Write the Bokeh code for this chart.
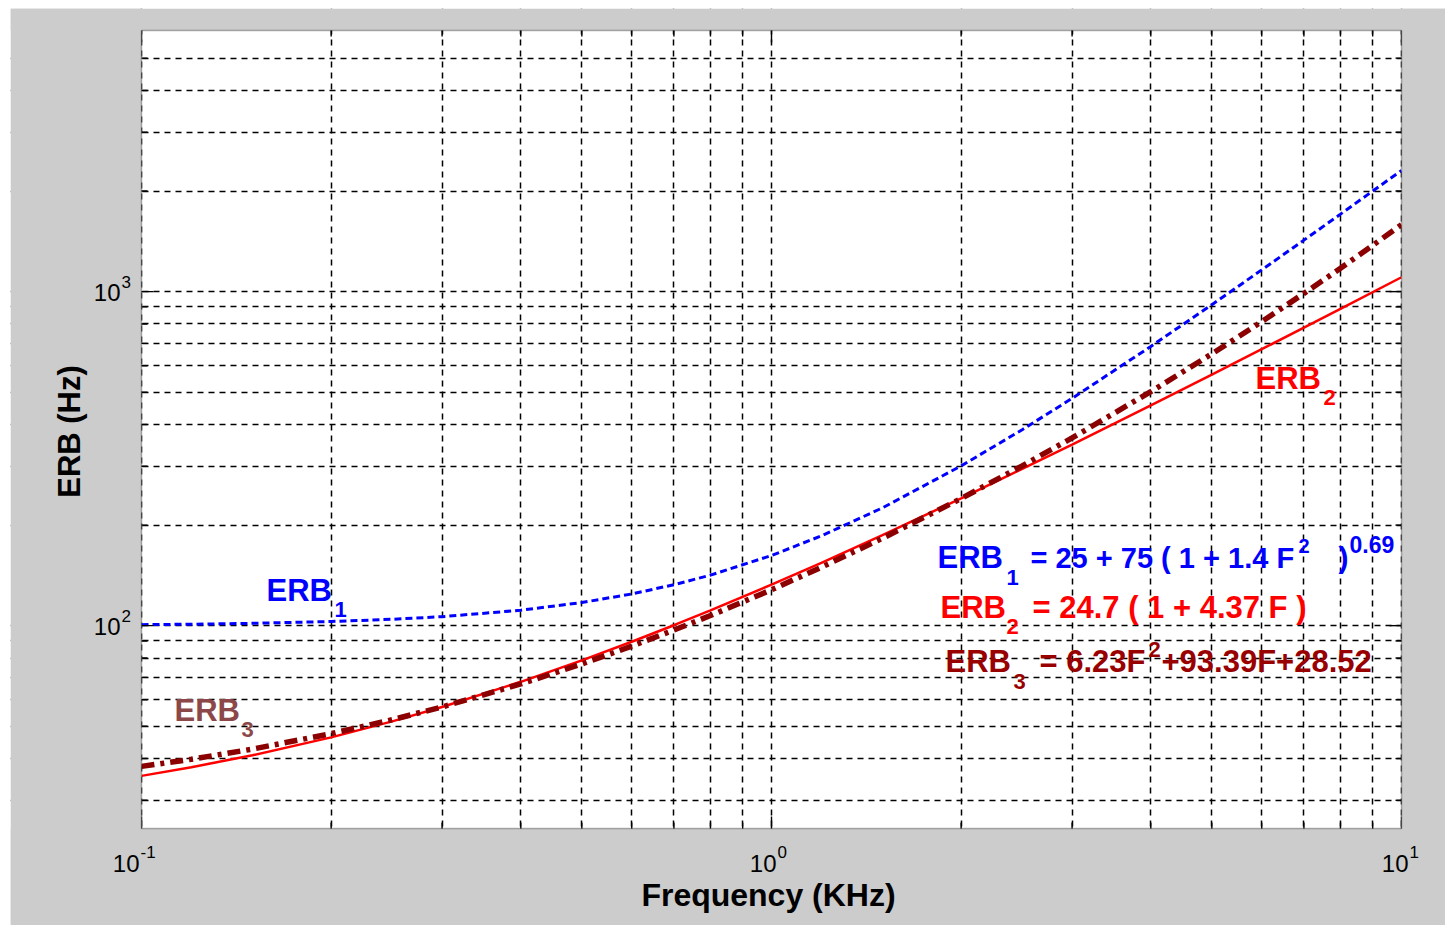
from math import pi, log10
from bokeh.plotting import figure
from bokeh.models import Range1d, FixedTicker, Label, BoxAnnotation
from bokeh.embed import file_html
from bokeh.resources import INLINE

# ---- data ----
freq_khz = [0.1, 0.12, 0.15, 0.2, 0.25, 0.3, 0.4, 0.5, 0.6, 0.7, 0.8, 1.0, 1.2,
            1.5, 2.0, 2.5, 3.0, 4.0, 5.0, 6.0, 7.0, 8.0, 10.0]
erb1 = [100.7, 101.0, 101.6, 102.9, 104.5, 106.4, 111.2, 117.3, 124.4, 132.6, 141.6,
        162.2, 185.7, 225.2, 300.8, 386.0, 479.1, 685.4, 914.0, 1161.6, 1426.0,
        1705.8, 2305.6]
erb2 = [35.5, 37.7, 40.9, 46.3, 51.7, 57.1, 67.9, 78.7, 89.5, 100.3, 111.1, 132.6,
        154.2, 186.6, 240.6, 294.6, 348.5, 456.5, 564.4, 672.3, 780.3, 888.2, 1104.1]
erb3 = [37.9, 39.8, 42.7, 47.5, 52.3, 57.1, 66.9, 76.8, 86.8, 97.0, 107.2, 128.1,
        149.6, 182.6, 240.2, 300.9, 364.8, 501.8, 651.2, 813.1, 987.5, 1174.4, 1585.4]

x_major = [0.1, 1.0, 10.0]
x_exp = ["-1", "0", "1"]
x_minor = [0.2, 0.3, 0.4, 0.5, 0.6, 0.7, 0.8, 0.9, 2, 3, 4, 5, 6, 7, 8, 9]
y_major = [100, 1000]
y_exp = ["2", "3"]
y_minor = [30, 40, 50, 60, 70, 80, 90, 200, 300, 400, 500, 600, 700, 800, 900,
           2000, 3000, 4000, 5000]

XMIN, XMAX = 0.1, 10.0
YMIN, YMAX = 24.7, 6050.0

FONT = "Liberation Sans"
GRAY = "#cccccc"

# whole canvas is the frame; the axes box sits inside it with gray borders
CW, CH = 1435, 917                 # canvas size
BL, BR, BT, BB = 131, 44, 22, 97   # gray border widths around the axes box
ppd_x = (CW - BL - BR) / log10(XMAX / XMIN)
ppd_y = (CH - BT - BB) / log10(YMAX / YMIN)
xr = Range1d(XMIN / 10 ** (BL / ppd_x), XMAX * 10 ** (BR / ppd_x))
yr = Range1d(YMIN / 10 ** (BB / ppd_y), YMAX * 10 ** (BT / ppd_y))

p = figure(x_axis_type="log", y_axis_type="log", x_range=xr, y_range=yr,
           x_axis_location=None, y_axis_location=None,
           frame_width=CW, frame_height=CH, min_border=0,
           output_backend="svg", toolbar_location=None, tools="",
           border_fill_color=GRAY, background_fill_color="white",
           outline_line_color=None)
p.margin = (8, 0, 0, 10)

# grid: dashed, at every major and minor decade position
for g, ticks in ((p.xgrid, x_major + x_minor), (p.ygrid, y_major + y_minor)):
    g.ticker = FixedTicker(ticks=ticks)
    g.grid_line_color = "#000000"
    g.grid_line_width = 1.5
    g.grid_line_dash = "6 5"

# curves
p.line(freq_khz, erb1, line_color="#0000ff", line_width=3, line_dash="7 4")
p.line(freq_khz, erb2, line_color="#ff0000", line_width=2.5)
p.line(freq_khz, erb3, line_color="#8b0000", line_width=5.5, line_dash="13 6 4 6")

# inward tick marks on all four sides (centred on the box edge; outer half is hidden)
for ticks, size in ((x_major, 24), (x_minor, 12)):
    for edge in (YMIN, YMAX):
        p.scatter(ticks, [edge] * len(ticks), marker="dash", size=size, angle=pi / 2,
                  line_color="black", line_width=1.4)
for ticks, size in ((y_major, 24), (y_minor, 12)):
    for edge in (XMIN, XMAX):
        p.scatter([edge] * len(ticks), ticks, marker="dash", size=size,
                  line_color="black", line_width=1.4)

# gray surround and the axes box outline
for kw in (dict(right=XMIN), dict(left=XMAX), dict(top=YMIN), dict(bottom=YMAX)):
    p.add_layout(BoxAnnotation(fill_color=GRAY, fill_alpha=1.0, line_alpha=0.0, **kw))
p.add_layout(BoxAnnotation(left=XMIN, right=XMAX, bottom=YMIN, top=YMAX,
                           fill_alpha=0.0, line_color="black", line_width=1.5))

K = 0.33  # baseline correction (fraction of font size)

def lab(x, y, text, size, color="black", bold=False, align="left", angle=0.0, dx=0, dy=0):
    if angle:
        dx -= K * size
    else:
        dy += K * size
    p.add_layout(Label(x=x, y=y, x_offset=dx, y_offset=dy, text=text,
                       text_font=FONT, text_font_size=f"{size}px", text_color=color,
                       text_font_style="bold" if bold else "normal",
                       text_align=align, text_baseline="alphabetic", angle=angle))

# tick labels 10^n
x_shift = [-2, 5, 7]
for xv, e, s in zip(x_major, x_exp, x_shift):
    lab(xv, YMIN, "10", 24, align="right", dx=s, dy=-43)
    lab(xv, YMIN, e, 17, dx=s + 1, dy=-29)
for yv, e in zip(y_major, y_exp):
    lab(XMIN, yv, "10", 24, align="right", dx=-21, dy=-9)
    lab(XMIN, yv, e, 17, dx=-20, dy=4)

# axis titles
lab((XMIN * XMAX) ** 0.5, YMIN, "Frequency (KHz)", 32, bold=True, align="center", dx=-3, dy=-77)
lab(XMIN, (YMIN * YMAX) ** 0.5, "ERB (Hz)", 31, bold=True, align="center",
    angle=pi / 2, dx=-62, dy=-2)

# curve names and formulas, placed in pixels from the box's lower-left corner
def put(text, px, py, size, color):
    lab(XMIN, YMIN, text, size, color=color, bold=True, dx=px - 141, dy=828 - py)

BLUE, RED, DRED, BROWN = "#0000ff", "#ff0000", "#990000", "#8c4848"
put("ERB", 266, 600, 31, BLUE)
put("1", 334, 616, 22, BLUE)
put("ERB", 1255, 388, 31, RED)
put("2", 1323, 404, 22, RED)
put("ERB", 174, 720, 31, BROWN)
put("3", 241, 736, 22, BROWN)

put("ERB", 937, 567, 31, BLUE)
put("1", 1006, 584, 22, BLUE)
put("= 25 + 75 ( 1 + 1.4 F", 1030, 567, 29, BLUE)
put("2", 1298, 552, 20, BLUE)
put(")", 1338, 567, 30, BLUE)
put("0.69", 1349, 552, 23, BLUE)

put("ERB", 940, 617, 31, RED)
put("2", 1006, 633, 22, RED)
put("= 24.7 ( 1 + 4.37 F )", 1032, 617, 31, RED)

put("ERB", 945, 671, 31, DRED)
put("3", 1013, 688, 22, DRED)
put("= 6.23F", 1039, 671, 31, DRED)
put("2", 1148, 656, 22, DRED)
put("+93.39F+28.52", 1161, 671, 31, DRED)

open("out.html", "w").write(file_html(p, INLINE))
